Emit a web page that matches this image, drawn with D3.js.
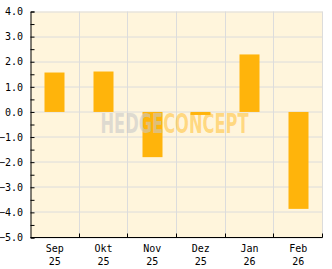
<!DOCTYPE html>
<html>
<head>
<meta charset="utf-8">
<script src="https://cdn.jsdelivr.net/npm/d3@7"></script>
<style>
  body { margin: 0; background: #fff; }
  svg { display: block; }
</style>
</head>
<body>
<div id="chart"></div>
<script>
// monthly values
var months = ["Sep", "Okt", "Nov", "Dez", "Jan", "Feb"];
var years = ["25", "25", "25", "25", "26", "26"];
var values = [1.57, 1.61, -1.80, -0.12, 2.29, -3.86];
var yTicks = [-5, -4, -3, -2, -1, 0, 1, 2, 3, 4];
var yMinorTicks = [-4.5, -3.5, -2.5, -1.5, -0.5, 0.5, 1.5, 2.5, 3.5];

var svgWidth = 332;
var svgHeight = 269;
var margin = { top: 11.5, right: 9.5, bottom: 31.5, left: 30.5 };
var width = svgWidth - margin.left - margin.right;
var height = svgHeight - margin.top - margin.bottom;

var svg = d3.select("#chart")
    .append("svg")
    .attr("width", svgWidth)
    .attr("height", svgHeight);

var chartGroup = svg.append("g")
    .attr("transform", `translate(${margin.left},${margin.top})`);

var xScale = d3.scaleBand()
    .domain(months)
    .range([0, width])
    .padding(0);

var yScale = d3.scaleLinear()
    .domain([-5, 4])
    .range([height, 0]);

// plot background
chartGroup.append("rect")
    .attr("width", width)
    .attr("height", height)
    .attr("fill", "#fff5dc");

// grid
var boundaries = months.slice(1).map(d => xScale(d));
chartGroup.selectAll(".vgrid")
    .data(boundaries.concat([width]))
    .enter()
    .append("line")
    .attr("x1", d => Math.round(d))
    .attr("x2", d => Math.round(d))
    .attr("y1", 0)
    .attr("y2", height)
    .attr("stroke", "#dcdcdc");

chartGroup.selectAll(".hgrid")
    .data(yTicks)
    .enter()
    .append("line")
    .attr("x1", 0)
    .attr("x2", width)
    .attr("y1", d => Math.round(yScale(d) - 0.5) + 0.5)
    .attr("y2", d => Math.round(yScale(d) - 0.5) + 0.5)
    .attr("stroke", "#dcdcdc");

// bars
var barWidth = 20;
chartGroup.selectAll(".bar")
    .data(values)
    .enter()
    .append("rect")
    .attr("x", (d, i) => Math.round(xScale(months[i]) + xScale.bandwidth() / 2 - barWidth / 2))
    .attr("y", d => yScale(Math.max(0, d)))
    .attr("width", barWidth)
    .attr("height", d => Math.abs(yScale(d) - yScale(0)))
    .attr("fill", "#ffb40b");

// watermark
var wm = chartGroup.append("text")
    .attr("x", 70)
    .attr("y", 121.5)
    .attr("textLength", 148)
    .attr("lengthAdjust", "spacingAndGlyphs")
    .attr("font-family", "'DejaVu Sans Condensed', 'DejaVu Sans', sans-serif")
    .attr("font-weight", "bold")
    .attr("font-size", 26);
wm.append("tspan")
    .attr("fill", "#c8c8c8")
    .attr("fill-opacity", 0.6)
    .text("HEDGE");
wm.append("tspan")
    .attr("fill", "#ffb40b")
    .attr("fill-opacity", 0.45)
    .text("CONCEPT");

// left axis
var leftAxis = d3.axisLeft(yScale)
    .tickValues(yTicks)
    .tickSize(-4)
    .tickPadding(7.5)
    .tickFormat(d3.format(".1f"));

var yAxis = chartGroup.append("g").call(leftAxis);
yAxis.select(".domain").attr("stroke", "#000");
yAxis.selectAll(".tick line").attr("stroke", "#000");
yAxis.selectAll(".tick text")
    .attr("font-family", "'DejaVu Sans Mono', monospace")
    .attr("font-size", 10)
    .attr("fill", "#000");

chartGroup.append("g")
    .call(d3.axisLeft(yScale).tickValues(yMinorTicks).tickSize(-4).tickFormat(""))
    .call(g => g.select(".domain").remove())
    .selectAll(".tick line").attr("stroke", "#000");

// bottom axis
chartGroup.append("line")
    .attr("x1", 0)
    .attr("x2", width)
    .attr("y1", height)
    .attr("y2", height)
    .attr("stroke", "#000");

chartGroup.selectAll(".xtick")
    .data(boundaries.concat([width]))
    .enter()
    .append("line")
    .attr("x1", d => Math.round(d))
    .attr("x2", d => Math.round(d))
    .attr("y1", height)
    .attr("y2", height - 4)
    .attr("stroke", "#000");

var xLabels = chartGroup.selectAll(".xlabel")
    .data(months)
    .enter()
    .append("text")
    .attr("x", d => xScale(d) + xScale.bandwidth() / 2)
    .attr("y", height + 14)
    .attr("text-anchor", "middle")
    .attr("font-family", "'DejaVu Sans Mono', monospace")
    .attr("font-size", 10)
    .attr("fill", "#000");

xLabels.append("tspan")
    .attr("x", d => xScale(d) + xScale.bandwidth() / 2)
    .text(d => d);
xLabels.append("tspan")
    .attr("x", d => xScale(d) + xScale.bandwidth() / 2)
    .attr("dy", 13)
    .text((d, i) => years[i]);
</script>
</body>
</html>
